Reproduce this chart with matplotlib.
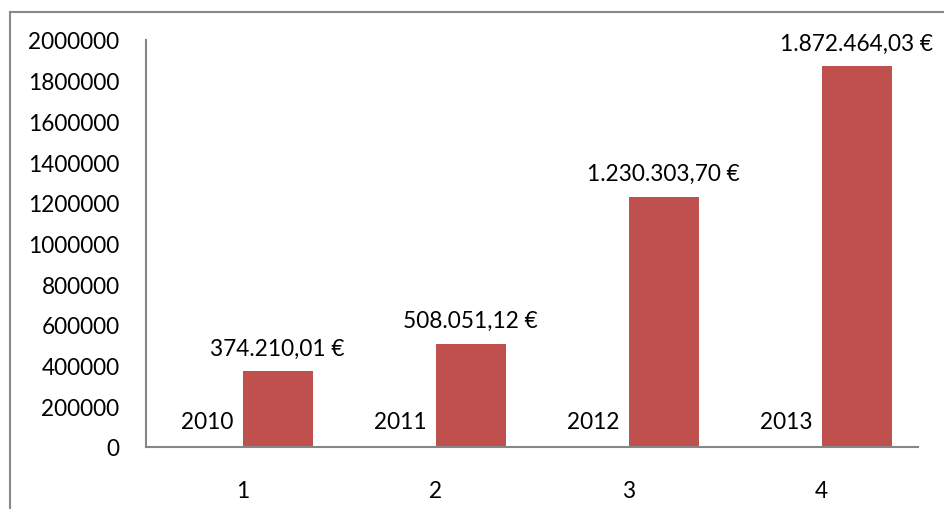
import matplotlib
matplotlib.use("Agg")
import matplotlib.pyplot as plt
from matplotlib.patches import Rectangle
import numpy as np

categories = ["1", "2", "3", "4"]
years = [2010, 2011, 2012, 2013]
amounts = [374210.01, 508051.12, 1230303.70, 1872464.03]
yticks = [0, 200000, 400000, 600000, 800000, 1000000, 1200000, 1400000, 1600000, 1800000, 2000000]

def eur(v):
    s = f"{v:,.2f}"
    s = s.replace(",", "X").replace(".", ",").replace("X", ".")
    return s + " €"

plt.rcParams['font.family'] = ['Lato', 'DejaVu Sans']
FS = 16.3

fig = plt.figure(figsize=(9.44, 5.10), dpi=100)
# outer chart frame (cut off at right and bottom)
fig.patches.append(Rectangle((9.5/944, -0.1), 1.2, 1 - 12.5/510 + 0.1, transform=fig.transFigure,
                             fill=False, edgecolor='#898989', linewidth=1.5))

ax = fig.add_axes([146/944, 1 - 448/510, (918 - 146)/944, (448 - 41)/510])
x = np.arange(len(categories))
w = 0.3636
b1 = ax.bar(x - w/2, years, width=w, color='#4F81BD', linewidth=0)
b2 = ax.bar(x + w/2, amounts, width=w, color='#C0504D', linewidth=0)

for xi, yv in zip(x, years):
    ax.annotate(str(yv), (xi - w/2, yv), xytext=(0, 18), textcoords='offset points',
                ha='center', va='center', fontsize=FS, color='black')
for xi, av in zip(x, amounts):
    ax.annotate(eur(av), (xi + w/2, av), xytext=(0, 16.5), textcoords='offset points',
                ha='center', va='center', fontsize=FS, color='black', annotation_clip=False)

ax.set_xlim(-0.5, len(categories) - 0.5)
ax.set_ylim(0, 2000000)
ax.set_yticks(yticks)
ax.set_yticklabels([str(t) for t in yticks], fontsize=FS)
ax.set_xticks(x)
ax.set_xticklabels(categories, fontsize=FS)
ax.tick_params(axis='y', length=0, pad=19)
ax.tick_params(axis='x', length=0, pad=24)
for s in ['top', 'right']:
    ax.spines[s].set_visible(False)
for s in ['left', 'bottom']:
    ax.spines[s].set_color('#868686')
    ax.spines[s].set_linewidth(1.5)

fig.savefig("out.png", dpi=100)
